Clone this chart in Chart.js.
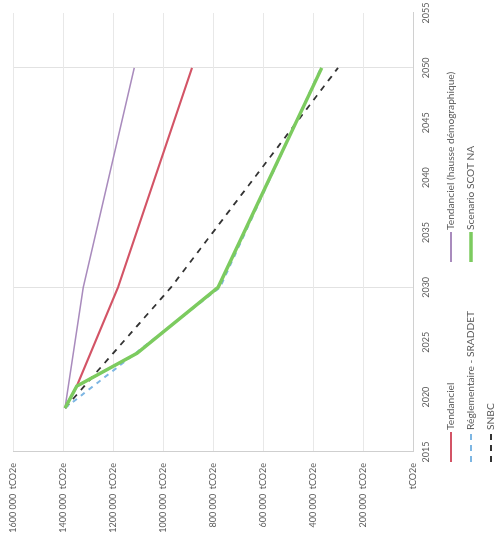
<!DOCTYPE html>
<html>
<head>
<meta charset="utf-8">
<script src="https://cdn.jsdelivr.net/npm/chart.js@4/dist/chart.umd.min.js"></script>
<style>
  html, body { margin: 0; padding: 0; background: #fff; overflow: hidden; width: 501px; height: 551px; }
  /* the chart is laid out landscape, then turned a quarter turn to stand on its side */
  #frame { position: absolute; left: 0; top: 0; width: 551px; height: 501px;
           transform-origin: 0 0; transform: translate(0, 551px) rotate(-90deg); }
</style>
</head>
<body>
<div id="frame"><canvas id="c" width="551" height="501"></canvas></div>
<script>
// Emission trajectories, tCO2e per year
const tendancielYears = [2019, 2021, 2030, 2050];
const tendancielValues = [1392000, 1345000, 1180000, 884000];

const demoYears = [2019, 2030, 2050];
const demoValues = [1392000, 1319000, 1115000];

const sraddetYears = [2019, 2030, 2050];
const sraddetValues = [1392000, 772000, 368000];

const snbcYears = [2019, 2030, 2050];
const snbcValues = [1392000, 968000, 300000];

const scotYears = [2019, 2021, 2024, 2030, 2050];
const scotValues = [1392000, 1345000, 1104000, 780000, 365000];

const seriesNames = [
  'Tendanciel',
  'Réglementaire - SRADDET',
  'SNBC',
  'Tendanciel (hausse démographique)',
  'Scenario SCOT NA'
];

const yearMin = 2015, yearMax = 2055, yearStep = 5;
const valueMin = 0, valueMax = 1600000, valueStep = 200000;
const markedYears = [2030, 2050];

const FONT = 'Lato, "Open Sans", sans-serif';
const TEXT = '#595959';

function pts(xs, ys) { return xs.map((x, i) => ({ x: x, y: ys[i] })); }

function fmtValue(v) {
  if (v === 0) return ' tCO2e';
  const s = String(Math.round(v));
  const head = s.slice(0, s.length - 3);
  const tail = s.slice(-3);
  return head + ' ' + tail + '  tCO2e';
}

const datasets = [
  { label: seriesNames[0], data: pts(tendancielYears, tendancielValues),
    borderColor: '#d35466', borderWidth: 2, order: 3 },
  { label: seriesNames[1], data: pts(sraddetYears, sraddetValues),
    borderColor: '#7db6e3', borderWidth: 2, borderDash: [5, 5], order: 4 },
  { label: seriesNames[2], data: pts(snbcYears, snbcValues),
    borderColor: '#333333', borderWidth: 1.8, borderDash: [6, 6], order: 5 },
  { label: seriesNames[3], data: pts(demoYears, demoValues),
    borderColor: '#a98bbd', borderWidth: 1.5, order: 2 },
  { label: seriesNames[4], data: pts(scotYears, scotValues),
    borderColor: '#7ccb5f', borderWidth: 3.5, order: 1 }
];
datasets.forEach(d => { d.pointRadius = 0; d.fill = false; d.tension = 0; d.borderCapStyle = 'butt'; });

// legend in two columns, three rows, below the plot
const legendSlots = [
  { x: 89, y: 451 }, { x: 89, y: 471 }, { x: 89, y: 491 },
  { x: 289, y: 451 }, { x: 289, y: 471 }
];
const legendRows = {
  id: 'legendRows',
  afterDraw(chart) {
    const ctx = chart.ctx;
    ctx.save();
    chart.data.datasets.forEach((ds, i) => {
      const s = legendSlots[i];
      ctx.beginPath();
      ctx.strokeStyle = ds.borderColor;
      ctx.lineWidth = Math.max(2, ds.borderWidth);
      ctx.setLineDash(ds.borderDash ? [6, 5] : []);
      ctx.moveTo(s.x, s.y);
      ctx.lineTo(s.x + 30, s.y);
      ctx.stroke();
      ctx.setLineDash([]);
      ctx.fillStyle = TEXT;
      ctx.font = '10.2px ' + FONT;
      ctx.textBaseline = 'middle';
      ctx.textAlign = 'left';
      ctx.fillText(ds.label, s.x + 32, s.y);
    });
    ctx.restore();
  }
};

// keep the plot area fixed: no extra room reserved for overhanging end labels
function noOverhang(scale) {
  scale.paddingLeft = 0; scale.paddingRight = 0;
  scale.paddingTop = 0; scale.paddingBottom = 0;
}

new Chart(document.getElementById('c'), {
  type: 'line',
  data: { datasets: datasets },
  plugins: [legendRows],
  options: {
    responsive: false,
    animation: false,
    devicePixelRatio: 1,
    layout: { padding: { top: 13, right: 13, left: 0, bottom: 0 } },
    plugins: { legend: { display: false }, tooltip: { enabled: false } },
    scales: {
      x: {
        type: 'linear', min: yearMin, max: yearMax,
        afterFit(scale) { scale.height = 88; noOverhang(scale); },
        ticks: { stepSize: yearStep, color: TEXT, font: { family: FONT, size: 9 }, padding: 8,
                 maxRotation: 0, callback: v => String(v) },
        grid: { drawTicks: false,
                color: c => markedYears.includes(c.tick && c.tick.value) ? '#e2e2e2' : 'rgba(0,0,0,0)' },
        border: { color: '#d0d0d0', width: 1 }
      },
      y: {
        min: valueMin, max: valueMax,
        afterFit(scale) { scale.width = 99; noOverhang(scale); },
        ticks: { stepSize: valueStep, color: TEXT, font: { family: FONT, size: 9 }, padding: 11,
                 callback: v => fmtValue(v) },
        grid: { drawTicks: false, color: '#e8e8e8' },
        border: { color: '#cfcfcf', width: 1 }
      }
    }
  }
});
</script>
</body>
</html>
